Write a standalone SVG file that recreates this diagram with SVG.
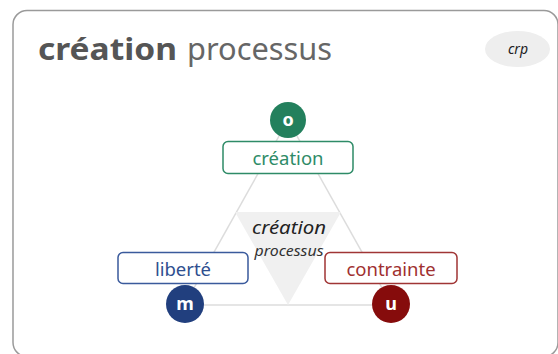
<svg xmlns="http://www.w3.org/2000/svg" width="558" height="354" viewBox="0 0 558 354">
<style>
text{font-family:"Noto Sans","Open Sans",sans-serif}
.card{fill:#fff;stroke:#9a9a9a;stroke-width:1.5}
.edge{stroke:#dcdcdc;stroke-width:1.5;fill:none}
.box{fill:#fff;stroke-width:1.5}
.lbl{font-size:18.5px;text-anchor:middle}
.dot{font-size:18px;font-weight:bold;fill:#fff;text-anchor:middle}
</style>
<rect class="card" x="13" y="10.5" width="545" height="346" rx="14"/>
<g id="title">
<text x="38" y="60" font-size="31" font-weight="bold" fill="#555" textLength="139" lengthAdjust="spacingAndGlyphs">création</text>
<text x="187" y="60" font-size="31" fill="#666" textLength="145" lengthAdjust="spacingAndGlyphs">processus</text>
</g>
<g id="badge">
<ellipse cx="517.5" cy="49" rx="32.5" ry="18" fill="#eeeeee"/>
<text x="518" y="54" font-size="14" font-style="italic" fill="#222" text-anchor="middle">crp</text>
</g>
<g id="connectors">
<line class="edge" x1="288" y1="120" x2="185" y2="304"/>
<line class="edge" x1="288" y1="120" x2="391" y2="304"/>
<line class="edge" x1="185" y1="305" x2="391" y2="305"/>
</g>
<g id="center">
<polygon points="235,212 341,212 288,305" fill="#f0f0f0"/>
<text x="289" y="234" font-size="18" font-style="italic" fill="#222" text-anchor="middle" textLength="74" lengthAdjust="spacingAndGlyphs">création</text>
<text x="289" y="256" font-size="14" font-style="italic" fill="#333" text-anchor="middle" textLength="69" lengthAdjust="spacingAndGlyphs">processus</text>
</g>
<g id="node-o">
<circle cx="288" cy="120" r="18" fill="#23805d"/>
<text class="dot" x="288" y="126">o</text>
<rect class="box" x="223" y="141.5" width="130" height="32" rx="5" stroke="#2e8b67"/>
<text class="lbl" x="288" y="164.5" fill="#2e8b67">création</text>
</g>
<g id="node-m">
<rect class="box" x="118" y="252.5" width="130" height="31" rx="5" stroke="#3a5a9c"/>
<text class="lbl" x="183" y="275.5" fill="#2f4f8f">liberté</text>
<circle cx="185" cy="304" r="19" fill="#213f7e"/>
<text class="dot" x="185" y="310">m</text>
</g>
<g id="node-u">
<rect class="box" x="325" y="252.5" width="132" height="31" rx="5" stroke="#a03535"/>
<text class="lbl" x="391" y="275.5" fill="#a03030">contrainte</text>
<circle cx="391" cy="304" r="19" fill="#860c0c"/>
<text class="dot" x="391" y="310">u</text>
</g>
</svg>
